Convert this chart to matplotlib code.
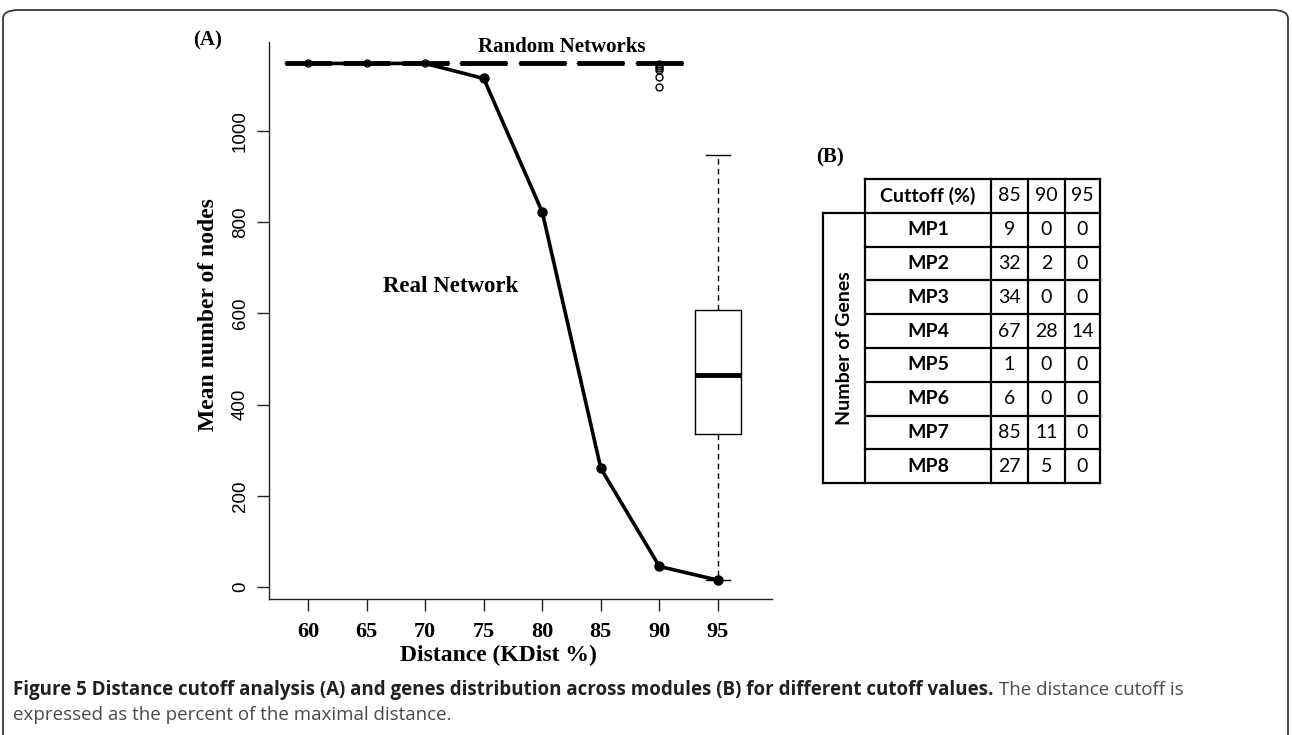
import matplotlib.pyplot as plt
from matplotlib.patches import FancyBboxPatch

W, H = 1292, 735

# panel A: real network and random network summaries per cutoff
cutoffs = [60, 65, 70, 75, 80, 85, 90, 95]
real_nodes = [1148, 1148, 1148, 1115, 822, 260, 45, 15]

rand_med = [1148, 1148, 1148, 1148, 1148, 1148, 1148, 465]
rand_q1 = [1148, 1148, 1148, 1148, 1148, 1148, 1148, 335]
rand_q3 = [1148, 1148, 1148, 1148, 1148, 1148, 1148, 608]
rand_lo = [1148, 1148, 1148, 1148, 1148, 1148, 1148, 15]
rand_hi = [1148, 1148, 1148, 1148, 1148, 1148, 1148, 948]
rand_fliers = [[1148], [1148], [1148], [], [], [],
               [1146, 1142, 1138, 1133, 1118, 1096], []]

yticks = [0, 200, 400, 600, 800, 1000]

# panel B: table
table_cutoffs = ['85', '90', '95']
modules = ['MP1', 'MP2', 'MP3', 'MP4', 'MP5', 'MP6', 'MP7', 'MP8']
genes = [[9, 0, 0], [32, 2, 0], [34, 0, 0], [67, 28, 14],
         [1, 0, 0], [6, 0, 0], [85, 11, 0], [27, 5, 0]]

caption_bold = 'Figure 5 Distance cutoff analysis (A) and genes distribution across modules (B) for different cutoff values.'
caption_rest = ' The distance cutoff is'
caption_line2 = 'expressed as the percent of the maximal distance.'

serif = 'Liberation Serif'
sans = 'Liberation Sans'
tfont = 'Lato'


def box(x0, y0, x1, y1):
    # pixel box -> figure fraction rect
    return [x0 / W, 1 - y1 / H, (x1 - x0) / W, (y1 - y0) / H]


fig = plt.figure(figsize=(W / 100, H / 100), dpi=100)

# outer frame
frame = FancyBboxPatch((3 / W, -0.05), (W - 7) / W, 1.05 - 10 / H,
                       boxstyle='round,pad=0,rounding_size=0.012',
                       transform=fig.transFigure, fill=False,
                       ec='#3a3a3a', lw=1.3)
fig.patches.append(frame)

# ---- panel A ----
ax = fig.add_axes(box(269, 42, 772, 599))
stats = []
for i in range(len(cutoffs)):
    stats.append(dict(med=rand_med[i], q1=rand_q1[i], q3=rand_q3[i],
                      whislo=rand_lo[i], whishi=rand_hi[i], fliers=rand_fliers[i]))
ax.bxp(stats, positions=cutoffs, widths=4, capwidths=2, manage_ticks=False,
       boxprops=dict(color='black', lw=1),
       whiskerprops=dict(color='black', lw=1, ls=(0, (4, 3))),
       capprops=dict(color='black', lw=1),
       medianprops=dict(color='black', lw=3.5, solid_capstyle='butt'),
       flierprops=dict(marker='o', mfc='none', mec='black', ms=5, mew=1))
ax.plot(cutoffs, real_nodes, color='black', lw=2.6, marker='o', ms=6.5,
        markevery=list(range(3, len(cutoffs))), zorder=5)

ax.set_xlim(56.67, 99.61)
ax.set_ylim(-26.3, 1195)
ax.spines['top'].set_visible(False)
ax.spines['right'].set_visible(False)
for s in ['left', 'bottom']:
    ax.spines[s].set_linewidth(1)
    ax.spines[s].set_color('#222222')
ax.set_xticks(cutoffs)
ax.set_xticklabels([str(c) for c in cutoffs], family=serif, weight='bold', fontsize=16)
ax.set_yticks(yticks)
ax.set_yticklabels([str(v) for v in yticks], family=sans, fontsize=13.5,
                   rotation=90, va='center')
ax.tick_params(axis='both', length=8.5, width=1, color='#222222')
ax.tick_params(axis='x', pad=8)
ax.tick_params(axis='y', pad=6)
ax.set_xlabel('Distance (KDist %)', family=serif, weight='bold', fontsize=17)
ax.xaxis.set_label_coords((498 - 269) / 503, -0.083)
ax.set_ylabel('Mean number of nodes', family=serif, weight='bold', fontsize=17)
ax.yaxis.set_label_coords(-0.1, 0.51)

ax.text(81.7, 1185, 'Random Networks', family=serif, weight='bold',
        fontsize=15, ha='center', va='center')
ax.text(72.2, 658, 'Real Network', family=serif, weight='bold',
        fontsize=16.5, ha='center', va='center')
fig.text(208 / W, 1 - 40 / H, '(A)', family=serif, weight='bold',
         fontsize=15, ha='center', va='center')

# ---- panel B ----
fig.text(830 / W, 1 - 157 / H, '(B)', family=serif, weight='bold',
         fontsize=15, ha='center', va='center')

tx = [823, 865, 991, 1028, 1065, 1100]
ty0, rh = 179, 33.8
nrows = len(modules) + 1
ty = [ty0 + k * rh for k in range(nrows + 1)]

tax = fig.add_axes(box(tx[0] - 5, ty[0] - 5, tx[-1] + 5, ty[-1] + 5))
tax.set_xlim(tx[0] - 5, tx[-1] + 5)
tax.set_ylim(ty[-1] + 5, ty[0] - 5)
tax.axis('off')
lw_t = 1.6
# horizontal lines
tax.plot([tx[1], tx[-1]], [ty[0], ty[0]], color='black', lw=lw_t)
tax.plot([tx[0], tx[-1]], [ty[1], ty[1]], color='black', lw=lw_t)
for k in range(2, nrows):
    tax.plot([tx[1], tx[-1]], [ty[k], ty[k]], color='black', lw=lw_t)
tax.plot([tx[0], tx[-1]], [ty[-1], ty[-1]], color='black', lw=lw_t)
# vertical lines
tax.plot([tx[0], tx[0]], [ty[1], ty[-1]], color='black', lw=lw_t)
for x in tx[1:]:
    tax.plot([x, x], [ty[0], ty[-1]], color='black', lw=lw_t)

tsize = 14
tax.text((tx[1] + tx[2]) / 2, (ty[0] + ty[1]) / 2, 'Cuttoff (%)', family=tfont,
         weight='bold', fontsize=tsize, ha='center', va='center')
for j, c in enumerate(table_cutoffs):
    tax.text((tx[2 + j] + tx[3 + j]) / 2, (ty[0] + ty[1]) / 2, c, family=tfont,
             fontsize=tsize, ha='center', va='center')
for i, m in enumerate(modules):
    yc = (ty[i + 1] + ty[i + 2]) / 2
    tax.text((tx[1] + tx[2]) / 2, yc, m, family=tfont, weight='bold',
             fontsize=tsize, ha='center', va='center')
    for j in range(3):
        tax.text((tx[2 + j] + tx[3 + j]) / 2, yc, str(genes[i][j]), family=tfont,
                 fontsize=tsize, ha='center', va='center')
tax.text((tx[0] + tx[1]) / 2, (ty[1] + ty[-1]) / 2, 'Number of Genes', family=tfont,
         weight='bold', fontsize=tsize, rotation=90, ha='center', va='center')

# ---- caption ----
cap_font = 'Open Sans'
cap_size = 13.5
t1 = fig.text(13 / W, 1 - 690 / H, caption_bold, family=cap_font, weight='bold',
              fontsize=cap_size, color='#231f20', va='center')
fig.canvas.draw()
bb = t1.get_window_extent()
fig.text(bb.x1 / W, 1 - 690 / H, caption_rest, family=cap_font,
         fontsize=cap_size, color='#4a4a4a', va='center')
fig.text(13 / W, 1 - 715 / H, caption_line2, family=cap_font,
         fontsize=cap_size, color='#4a4a4a', va='center')

fig.savefig('out.png', dpi=100)
